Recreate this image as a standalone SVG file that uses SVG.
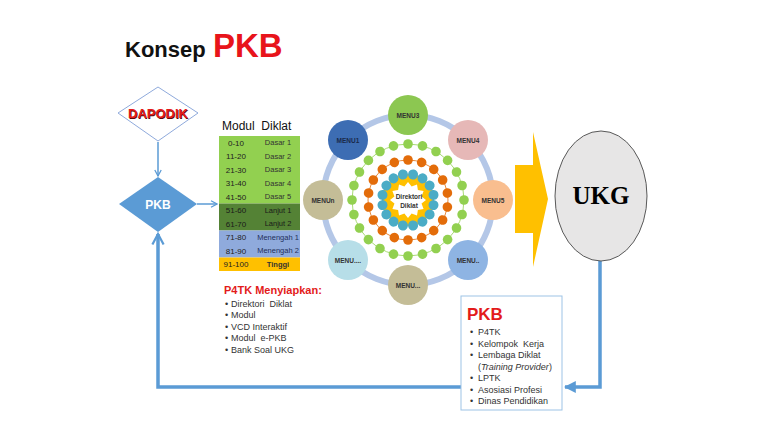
<svg xmlns="http://www.w3.org/2000/svg" width="770" height="433" viewBox="0 0 770 433">
<style>
text{font-family:"Liberation Sans",Arial,sans-serif}
.b{font-weight:bold}
.serif{font-family:"Liberation Serif","Times New Roman",serif}
.num{font-size:8px;fill:#222;text-anchor:middle}
.lab{font-size:7.5px;fill:#333;text-anchor:middle}
.li{font-size:9px;fill:#333}
.mt{font-size:6.5px;font-weight:bold;fill:#333;text-anchor:middle}
.thin{stroke:#5B9BD5;stroke-width:1.5;fill:none}
.thick{stroke:#5B9BD5;stroke-width:3.5;fill:none}
</style>
<defs>
<marker id="chev" viewBox="0 0 10 10" refX="8.5" refY="5" markerWidth="8" markerHeight="8" orient="auto" markerUnits="userSpaceOnUse"><path d="M1,1 L8.5,5 L1,9" fill="none" stroke="#5B9BD5" stroke-width="1.6"/></marker>
<marker id="chevB" viewBox="0 0 10 10" refX="8.5" refY="5" markerWidth="14" markerHeight="14" orient="auto" markerUnits="userSpaceOnUse"><path d="M1,1 L8.5,5 L1,9" fill="none" stroke="#5B9BD5" stroke-width="1.6"/></marker>
<marker id="tri" viewBox="0 0 10 10" refX="9" refY="5" markerWidth="12" markerHeight="12" orient="auto" markerUnits="userSpaceOnUse"><path d="M0,0 L10,5 L0,10 Z" fill="#5B9BD5"/></marker>
<circle id="dg" cx="408" cy="144" r="4.8" fill="#92D050"/>
<circle id="do" cx="408" cy="160" r="4.8" fill="#E36C0A"/>
<circle id="db" cx="408" cy="174" r="5" fill="#4BACC6"/>
</defs>
<rect width="770" height="433" fill="#fff"/>

<g id="title">
<text x="125" y="57" class="b" font-size="22" fill="#111">Konsep</text>
<text x="213" y="57" class="b" font-size="33" fill="#E8141B">PKB</text>
</g>

<g id="connectors">
<line x1="158" y1="142" x2="158" y2="176" class="thin" marker-end="url(#chev)"/>
<line x1="197" y1="204" x2="217" y2="204" class="thin" marker-end="url(#chev)"/>
<path d="M600,261 V387 H565" class="thick" marker-end="url(#tri)"/>
<path d="M461,387 H158 V234" class="thick" marker-end="url(#chevB)"/>
</g>

<g id="dapodik">
<polygon points="158,87 198,113 158,141 118,113" fill="#fff" stroke="#8FAADC" stroke-width="1"/>
<text x="158.8" y="118.8" class="b" font-size="13" fill="#5a0a0a" text-anchor="middle">DAPODIK</text>
<text x="158" y="118" class="b" font-size="13" fill="#E31B1B" text-anchor="middle">DAPODIK</text>
</g>

<g id="pkb-diamond">
<polygon points="158,177 197,204 158,232 119,204" fill="#5B9BD5"/>
<text x="158" y="208.5" class="b" font-size="12" fill="#fff" text-anchor="middle">PKB</text>
</g>

<g id="modul-diklat">
<text x="222" y="130" font-size="12" fill="#111">Modul&#160; Diklat</text>
<rect x="219" y="136" width="81" height="67.5" fill="#92D050"/>
<rect x="219" y="203.5" width="81" height="27" fill="#548235"/>
<rect x="219" y="230.5" width="81" height="27" fill="#8FAADC"/>
<rect x="219" y="257.5" width="81" height="13.5" fill="#FFC000"/>
<text x="236" y="145.5" class="num">0-10</text><text x="278" y="145" class="lab">Dasar 1</text>
<text x="236" y="159" class="num">11-20</text><text x="278" y="158.5" class="lab">Dasar 2</text>
<text x="236" y="172.5" class="num">21-30</text><text x="278" y="172" class="lab">Dasar 3</text>
<text x="236" y="186" class="num">31-40</text><text x="278" y="185.5" class="lab">Dasar 4</text>
<text x="236" y="199.5" class="num">41-50</text><text x="278" y="199" class="lab">Dasar 5</text>
<text x="236" y="213" class="num" style="fill:#1a1a1a">51-60</text><text x="278" y="212.5" class="lab" style="fill:#1a1a1a">Lanjut 1</text>
<text x="236" y="226.5" class="num" style="fill:#1a1a1a">61-70</text><text x="278" y="226" class="lab" style="fill:#1a1a1a">Lanjut 2</text>
<text x="236" y="240" class="num">71-80</text><text x="278" y="239.5" class="lab" style="fill:#1F2F5A">Menengah 1</text>
<text x="236" y="253.5" class="num">81-90</text><text x="278" y="253" class="lab" style="fill:#1F2F5A">Menengah 2</text>
<text x="236" y="267" class="num">91-100</text><text x="278" y="266.5" class="lab b">Tinggi</text>
</g>

<g id="p4tk">
<text x="224" y="294" class="b" font-size="11" fill="#E31B1B">P4TK Menyiapkan:</text>
<text x="225" y="306.5" class="li">•</text><text x="231" y="306.5" class="li">Direktori&#160; Diklat</text>
<text x="225" y="318" class="li">•</text><text x="231" y="318" class="li">Modul</text>
<text x="225" y="329.5" class="li">•</text><text x="231" y="329.5" class="li">VCD Interaktif</text>
<text x="225" y="341" class="li">•</text><text x="231" y="341" class="li">Modul&#160; e-PKB</text>
<text x="225" y="352.5" class="li">•</text><text x="231" y="352.5" class="li">Bank Soal UKG</text>
</g>

<g id="menu-wheel">
<circle cx="408" cy="200" r="85" fill="none" stroke="#B4C7E7" stroke-width="6"/>
<circle cx="408" cy="200" r="56" fill="none" stroke="#92D050" stroke-width="0.8"/>
<circle cx="408" cy="200" r="40" fill="none" stroke="#E36C0A" stroke-width="0.8"/>
<use href="#dg"/><use href="#dg" transform="rotate(15 408 200)"/><use href="#dg" transform="rotate(30 408 200)"/><use href="#dg" transform="rotate(45 408 200)"/><use href="#dg" transform="rotate(60 408 200)"/><use href="#dg" transform="rotate(75 408 200)"/><use href="#dg" transform="rotate(90 408 200)"/><use href="#dg" transform="rotate(105 408 200)"/><use href="#dg" transform="rotate(120 408 200)"/><use href="#dg" transform="rotate(135 408 200)"/><use href="#dg" transform="rotate(150 408 200)"/><use href="#dg" transform="rotate(165 408 200)"/><use href="#dg" transform="rotate(180 408 200)"/><use href="#dg" transform="rotate(195 408 200)"/><use href="#dg" transform="rotate(210 408 200)"/><use href="#dg" transform="rotate(225 408 200)"/><use href="#dg" transform="rotate(240 408 200)"/><use href="#dg" transform="rotate(255 408 200)"/><use href="#dg" transform="rotate(270 408 200)"/><use href="#dg" transform="rotate(285 408 200)"/><use href="#dg" transform="rotate(300 408 200)"/><use href="#dg" transform="rotate(315 408 200)"/><use href="#dg" transform="rotate(330 408 200)"/><use href="#dg" transform="rotate(345 408 200)"/>
<use href="#do"/><use href="#do" transform="rotate(20 408 200)"/><use href="#do" transform="rotate(40 408 200)"/><use href="#do" transform="rotate(60 408 200)"/><use href="#do" transform="rotate(80 408 200)"/><use href="#do" transform="rotate(100 408 200)"/><use href="#do" transform="rotate(120 408 200)"/><use href="#do" transform="rotate(140 408 200)"/><use href="#do" transform="rotate(160 408 200)"/><use href="#do" transform="rotate(180 408 200)"/><use href="#do" transform="rotate(200 408 200)"/><use href="#do" transform="rotate(220 408 200)"/><use href="#do" transform="rotate(240 408 200)"/><use href="#do" transform="rotate(260 408 200)"/><use href="#do" transform="rotate(280 408 200)"/><use href="#do" transform="rotate(300 408 200)"/><use href="#do" transform="rotate(320 408 200)"/><use href="#do" transform="rotate(340 408 200)"/>
<circle cx="408" cy="200" r="26" fill="#FFC000"/>
<polygon points="426,200 421.52,203.62 423.59,209 417.9,209.9 417,215.59 411.62,213.52 408,218 404.38,213.52 399,215.59 398.1,209.9 392.41,209 394.48,203.62 390,200 394.48,196.38 392.41,191 398.1,190.1 399,184.41 404.38,186.48 408,182 411.62,186.48 417,184.41 417.9,190.1 423.59,191 421.52,196.38" fill="#fff"/>
<use href="#db" transform="rotate(11.25 408 200)"/><use href="#db" transform="rotate(33.75 408 200)"/><use href="#db" transform="rotate(56.25 408 200)"/><use href="#db" transform="rotate(78.75 408 200)"/><use href="#db" transform="rotate(101.25 408 200)"/><use href="#db" transform="rotate(123.75 408 200)"/><use href="#db" transform="rotate(146.25 408 200)"/><use href="#db" transform="rotate(168.75 408 200)"/><use href="#db" transform="rotate(191.25 408 200)"/><use href="#db" transform="rotate(213.75 408 200)"/><use href="#db" transform="rotate(236.25 408 200)"/><use href="#db" transform="rotate(258.75 408 200)"/><use href="#db" transform="rotate(281.25 408 200)"/><use href="#db" transform="rotate(303.75 408 200)"/><use href="#db" transform="rotate(326.25 408 200)"/><use href="#db" transform="rotate(348.75 408 200)"/>
<text x="409" y="199" class="mt">Direktori</text>
<text x="409" y="208" class="mt">Diklat</text>
</g>

<g id="menu3"><circle cx="408" cy="115" r="20" fill="#8CC751"/><text x="408" y="117.5" class="mt">MENU3</text></g>
<g id="menu4"><circle cx="468" cy="140" r="20" fill="#E6B8B7"/><text x="468" y="142.5" class="mt">MENU4</text></g>
<g id="menu5"><circle cx="493" cy="200" r="20" fill="#F9BE8F"/><text x="493" y="202.5" class="mt">MENU5</text></g>
<g id="menu-br"><circle cx="468" cy="260" r="20" fill="#8EB4E3"/><text x="468" y="262.5" class="mt">MENU..</text></g>
<g id="menu-b"><circle cx="408" cy="285" r="20" fill="#C4BD97"/><text x="408" y="287.5" class="mt">MENU...</text></g>
<g id="menu-bl"><circle cx="348" cy="260" r="20" fill="#B7DEE8"/><text x="348" y="262.5" class="mt">MENU....</text></g>
<g id="menun"><circle cx="323" cy="200" r="20" fill="#C4BD97"/><text x="323" y="202.5" class="mt">MENUn</text></g>
<g id="menu1"><circle cx="348" cy="140" r="20" fill="#3D6DB3"/><text x="348" y="142.5" class="mt" style="fill:#1a2a4a">MENU1</text></g>

<g id="big-arrow">
<polygon points="515,165 533,165 533,132 548,199 533,267 533,233 515,233" fill="#FFC000"/>
</g>

<g id="ukg">
<ellipse cx="601" cy="196" rx="46" ry="65" fill="#E7E6E6" stroke="#595959" stroke-width="1"/>
<text x="601" y="204" class="serif b" font-size="25" fill="#000" text-anchor="middle">UKG</text>
</g>

<g id="pkb-box">
<rect x="461" y="296" width="101" height="114" fill="#fff" stroke="#9DC3E6" stroke-width="1"/>
<text x="467" y="320" class="b" font-size="17" fill="#E31B1B">PKB</text>
<text x="470" y="335" class="li">•</text><text x="478" y="335" class="li">P4TK</text>
<text x="470" y="346.5" class="li">•</text><text x="478" y="346.5" class="li">Kelompok&#160; Kerja</text>
<text x="470" y="358" class="li">•</text><text x="478" y="358" class="li">Lembaga Diklat</text>
<text x="478" y="369.5" class="li">(<tspan font-style="italic">Training Provider</tspan>)</text>
<text x="470" y="381" class="li">•</text><text x="478" y="381" class="li">LPTK</text>
<text x="470" y="392.5" class="li">•</text><text x="478" y="392.5" class="li">Asosiasi Profesi</text>
<text x="470" y="404" class="li">•</text><text x="478" y="404" class="li">Dinas Pendidikan</text>
</g>
</svg>
